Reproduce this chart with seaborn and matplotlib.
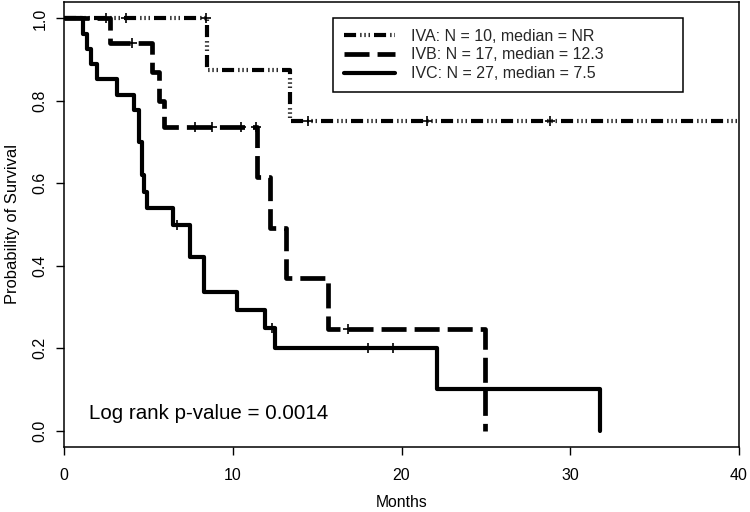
import numpy as np
import pandas as pd
import matplotlib
matplotlib.use("Agg")
import matplotlib.pyplot as plt
from matplotlib.lines import Line2D
import seaborn as sns

# ---- data ----
iva_t = [0.0, 8.5, 13.4, 40.0]
iva_s = [1.0, 0.875, 0.75, 0.75]
iva_cens = [2.5, 3.7, 8.4, 14.48, 21.5, 28.8]

ivb_t = [0.0, 2.73, 5.2, 5.65, 5.9, 11.45, 12.2, 13.16, 15.67, 24.96]
ivb_s = [1.0, 0.941, 0.871, 0.80, 0.737, 0.615, 0.491, 0.37, 0.246, 0.0]
ivb_cens = [4.0, 7.77, 8.75, 10.5, 11.35, 16.85]

ivc_t = [0.0, 1.15, 1.37, 1.58, 1.94, 3.12, 4.17, 4.45, 4.62, 4.75, 4.9,
         6.44, 7.47, 8.3, 10.23, 11.9, 12.5, 22.09, 31.77]
ivc_s = [1.0, 0.963, 0.926, 0.889, 0.852, 0.815, 0.778, 0.70, 0.62, 0.58, 0.54,
         0.50, 0.42, 0.335, 0.293, 0.25, 0.20, 0.10, 0.0]
ivc_cens = [6.68, 12.3, 18.04, 19.52]

labels = ["IVA: N = 10, median = NR",
          "IVB: N = 17, median = 12.3",
          "IVC: N = 27, median = 7.5"]
pvalue_text = "Log rank p-value = 0.0014"
x_ticks = [0, 10, 20, 30, 40]
y_ticks = [0.0, 0.2, 0.4, 0.6, 0.8, 1.0]

sns.set_theme(style="ticks")
plt.rcParams["font.family"] = ["Liberation Sans", "DejaVu Sans"]

fig = plt.figure(figsize=(7.5, 5.12), dpi=100)
ax = fig.add_axes([64 / 750, 1 - 447 / 512, 675 / 750, 445 / 512])

styles = {
    "IVA": dict(lw=3.0, ls=(0, (2.9, 1.0, 0.3, 0.7, 0.3, 0.7, 0.3, 1.0))),
    "IVB": dict(lw=3.4, ls=(0, (5.3, 1.7))),
    "IVC": dict(lw=3.0, ls="-"),
}

groups = [("IVA", iva_t, iva_s, iva_cens),
          ("IVB", ivb_t, ivb_s, ivb_cens),
          ("IVC", ivc_t, ivc_s, ivc_cens)]

for name, t, s, cens in groups:
    df = pd.DataFrame({"t": t, "s": s})
    st = styles[name]
    sns.lineplot(data=df, x="t", y="s", ax=ax, estimator=None, sort=False,
                 drawstyle="steps-post", color="black", linewidth=st["lw"],
                 linestyle=st["ls"], legend=False)
    t_arr = np.asarray(t)
    s_arr = np.asarray(s)
    idx = np.searchsorted(t_arr, np.asarray(cens), side="right") - 1
    cdf = pd.DataFrame({"t": cens, "s": s_arr[idx]})
    sns.scatterplot(data=cdf, x="t", y="s", ax=ax, marker="+", s=55,
                    color="black", linewidth=1.2, legend=False, zorder=5)

ax.set_xlim(0, 40)
ax.set_ylim(-0.04, 1.04)
ax.set_xticks(x_ticks)
ax.set_xticklabels([str(v) for v in x_ticks], fontsize=11.5)
ax.set_yticks(y_ticks)
ax.set_yticklabels([f"{v:.1f}" for v in y_ticks], fontsize=11.5,
                   rotation=90, va="center")
ax.tick_params(axis="x", length=6, width=1, pad=9, colors="black")
ax.tick_params(axis="y", length=6, width=1, pad=6, colors="black")
for sp in ax.spines.values():
    sp.set_visible(True)
    sp.set_color("black")
    sp.set_linewidth(1.1)

ax.set_xlabel("Months", fontsize=11.3, labelpad=9, color="black")
ax.set_ylabel("Probability of Survival", fontsize=11.9, labelpad=9, color="black")

ax.text(1.48, 0.041, pvalue_text, fontsize=14.8, ha="left", va="center",
        color="black")

handles = [Line2D([], [], color="black", linewidth=styles[k]["lw"],
                  linestyle=styles[k]["ls"]) for k in ["IVA", "IVB", "IVC"]]
x0 = (333 - 64) / 675
w = (683 - 333) / 675
ytop = (447 - 18) / 445
leg = ax.legend(handles, labels, loc="upper left", mode="expand",
                bbox_to_anchor=(x0, ytop - 0.2, w, 0.2),
                borderaxespad=0, fontsize=11.5, frameon=True, fancybox=False,
                edgecolor="black", framealpha=1, borderpad=0.66,
                labelspacing=0.24, handlelength=3.2, handletextpad=1.05)
leg.get_frame().set_linewidth(1.1)

fig.savefig("out.png", dpi=100)
